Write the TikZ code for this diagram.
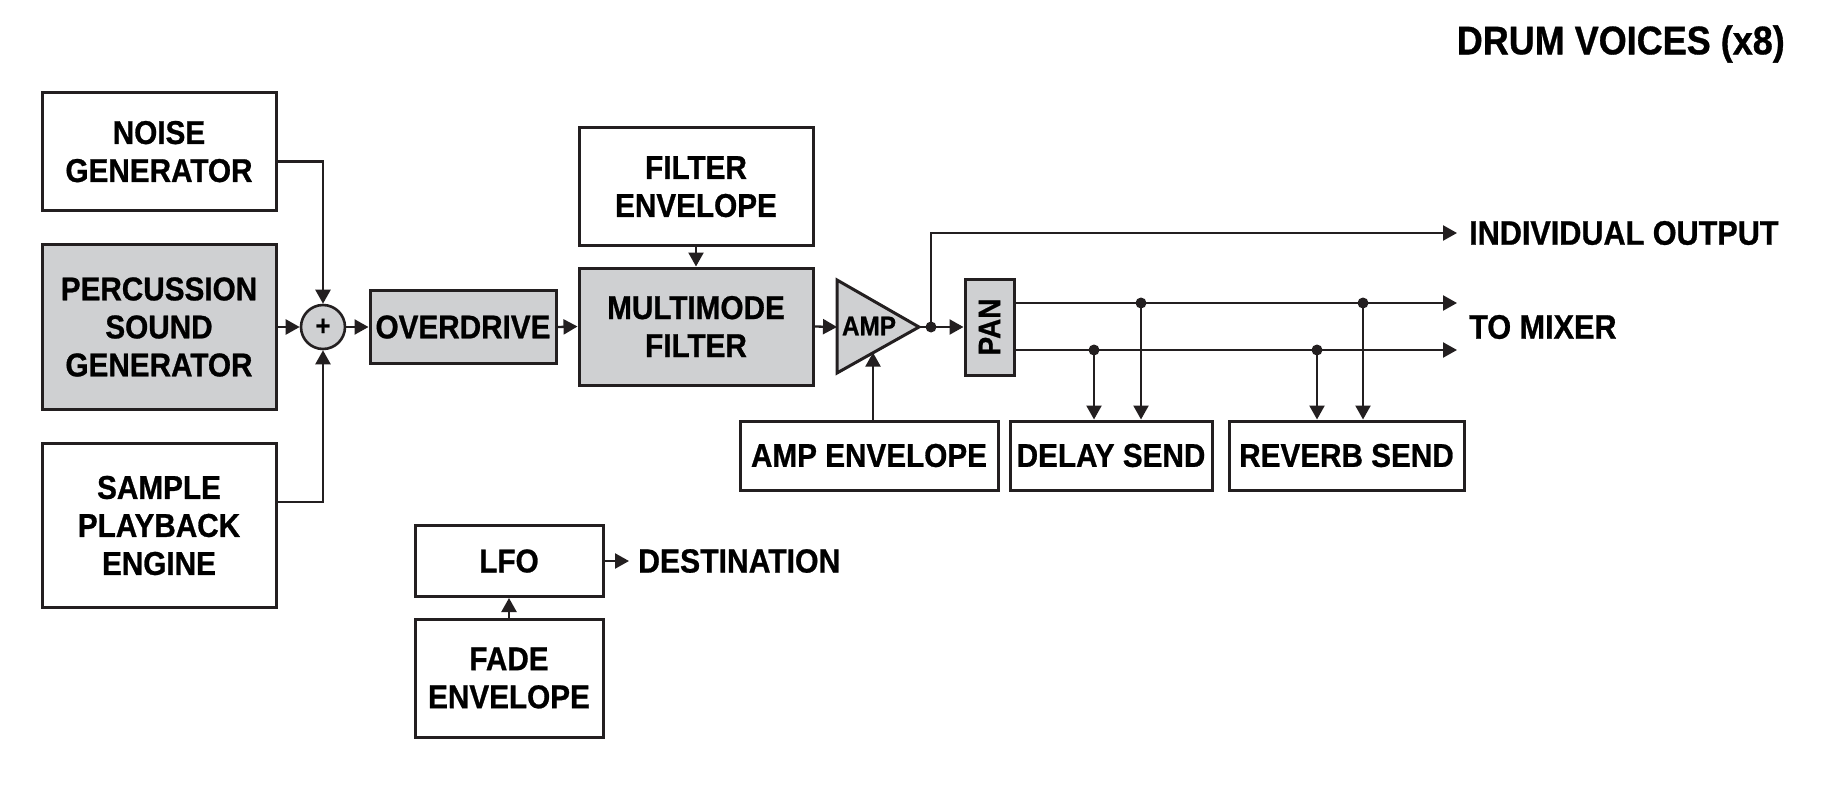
\documentclass[tikz,border=0pt]{standalone}
\usepackage{fontspec}
\setmainfont{Liberation Sans}[FakeStretch=0.9, BoldFeatures={FakeBold=0.8}]
\usepackage{tikz}
\usetikzlibrary{calc,arrows.meta}
\definecolor{ink}{HTML}{231F20}
\definecolor{grayfill}{HTML}{CFD0D2}
\tikzset{
  box/.style      = {draw=ink, fill=white, line width=3pt, inner sep=0pt, align=center, text=black, font=\fontsize{33}{38}\selectfont\bfseries},
  boxgray/.style  = {box, fill=grayfill},
  sumnode/.style  = {circle, draw=ink, fill=grayfill, line width=2.6pt, minimum size=44pt, inner sep=0pt, font=\fontsize{28}{28}\selectfont\bfseries},
  sig/.style      = {-{Triangle[length=14pt,width=15pt]}, draw=ink, line width=2.3pt},
  wire/.style     = {draw=ink, line width=2.3pt},
  dot/.style      = {circle, fill=ink, inner sep=0pt, minimum size=11pt},
  lab/.style      = {font=\fontsize{34}{38}\selectfont\bfseries, text=black, anchor=west, inner ysep=0pt, inner xsep=12pt},
  headline/.style = {font=\fontsize{40}{44}\selectfont\bfseries, text=black, anchor=east, inner sep=0pt},
}

\begin{document}
\begin{tikzpicture}[x=1pt,y=-1pt]
\path[use as bounding box, fill=white] (0,0) rectangle (1835,784);

\node[headline] (title) at (1785,44) {DRUM VOICES (x8)};

% ---- sources ------------------------------------------------------------
\node[box, minimum width=234pt, minimum height=118pt] (noise) at (159,151.6) {NOISE\\GENERATOR};
\node[boxgray, minimum width=234pt, minimum height=165pt] (perc) at (159,327) {PERCUSSION\\SOUND\\GENERATOR};
\node[box, minimum width=234pt, minimum height=164pt] (sample) at (159,525.5) {SAMPLE\\PLAYBACK\\ENGINE};
\node[sumnode] (sum) at (323,327) {+};

\draw[sig] ([yshift=-10pt]noise.east) -| (sum.north);
\draw[sig] ([yshift=23.5pt]sample.east) -| (sum.south);
\draw[sig] (perc.east) -- (sum.west);

% ---- drive, filter, amp -------------------------------------------------
\node[boxgray, minimum width=186pt, minimum height=73pt] (drive) at (463,327) {OVERDRIVE};
\node[box, minimum width=234pt, minimum height=118pt] (filtenv) at (696,186.7) {FILTER\\ENVELOPE};
\node[boxgray, minimum width=234pt, minimum height=117pt] (filter) at (696,326.5) {MULTIMODE\\FILTER};

\draw[sig] (sum.east) -- (drive.west);
\draw[sig] (drive.east) -- (filter.west);
\draw[sig] (filtenv.south) -- (filter.north);

\draw[draw=ink, fill=grayfill, line width=3pt] (837,280) -- (919,327) -- (837,373) -- cycle;
\node[font=\fontsize{27}{27}\selectfont\bfseries, inner sep=0pt] (amp) at (869,326) {AMP};
\coordinate (ampin)  at (837,327);
\coordinate (ampout) at (919,327);
\coordinate (ampcv)  at (873,352.6);

\node[box, minimum width=258pt, minimum height=69pt] (ampenv) at (869,455.5) {AMP ENVELOPE};
\draw[sig] (filter.east) -- (ampin);
\draw[sig] (ampenv.north -| ampcv) -- (ampcv);

% ---- pan and outputs ----------------------------------------------------
\node[boxgray, minimum width=49pt, minimum height=96pt, font=\fontsize{31}{31}\selectfont\bfseries] (pan) at (989.5,327) {\rotatebox{90}{PAN}};
\node[dot] (split) at (931,327) {};
\node[lab] (indiv) at (1457,233) {INDIVIDUAL OUTPUT};
\node[lab] (mixer) at (1457,327) {TO MIXER};

\draw[sig] (ampout) -- (pan.west);
\draw[sig] (split.center) |- (indiv.west);
\draw[sig] ([yshift=24pt]pan.east) -- ([yshift=24pt]pan.east -| mixer.west);
\draw[sig] ([yshift=-23pt]pan.east) -- ([yshift=-23pt]pan.east -| mixer.west);

\node[box, minimum width=202pt, minimum height=69pt] (delay) at (1111,455.5) {DELAY SEND};
\node[box, minimum width=235pt, minimum height=69pt] (reverb) at (1346.5,455.5) {REVERB SEND};

\node[dot] (tapdl) at (1094,350) {};
\node[dot] (tapdr) at (1141,303) {};
\node[dot] (taprl) at (1317,350) {};
\node[dot] (taprr) at (1363,303) {};
\foreach \t/\dst in {tapdl/delay, tapdr/delay, taprl/reverb, taprr/reverb}
  \draw[sig] (\t.center) -- (\t.center |- \dst.north);

% ---- modulation ---------------------------------------------------------
\node[box, minimum width=188pt, minimum height=71pt] (lfo) at (509,561) {LFO};
\node[box, minimum width=188pt, minimum height=118pt] (fade) at (509,678) {FADE\\ENVELOPE};
\node[lab, font=\fontsize{33.5}{38}\selectfont\bfseries, inner xsep=9pt] (dest) at (629,561) {DESTINATION};

\draw[sig] (lfo.east) -- (dest.west);
\draw[sig] (fade.north) -- (lfo.south);

\end{tikzpicture}
\end{document}
